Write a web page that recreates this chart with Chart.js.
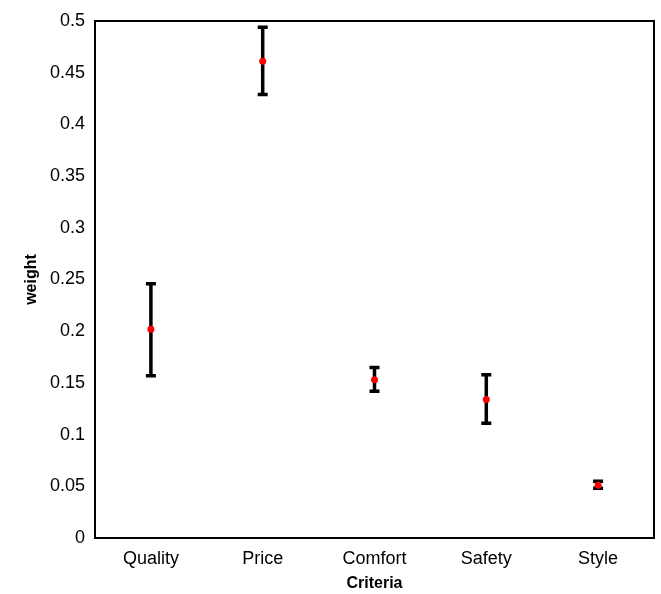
<!DOCTYPE html>
<html>
<head>
<meta charset="utf-8">
<script src="https://cdn.jsdelivr.net/npm/chart.js@4.4.1/dist/chart.umd.min.js"></script>
<style>
  html, body { margin: 0; padding: 0; background: #fff; }
  #wrap { width: 661px; height: 594px; }
</style>
</head>
<body>
<div id="wrap"><canvas id="myChart" width="661" height="594"></canvas></div>
<script>
// data
let criteria = ["Quality", "Price", "Comfort", "Safety", "Style"];
let weights = [0.202, 0.461, 0.153, 0.134, 0.051];
let upper = [0.246, 0.494, 0.165, 0.158, 0.055];
let lower = [0.157, 0.429, 0.142, 0.111, 0.048];

// error bars + frame, drawn with the chart scales
const errorBars = {
  id: "errorBars",
  afterDatasetsDraw(chart) {
    let ctx = chart.ctx;
    let xs = chart.scales.x;
    let ys = chart.scales.y;
    let area = chart.chartArea;
    ctx.save();
    ctx.strokeStyle = "#000";
    ctx.lineWidth = 2;
    ctx.strokeRect(area.left, area.top, area.right - area.left, area.bottom - area.top);
    ctx.lineWidth = 3.5;
    for (let i = 0; i < criteria.length; i++) {
      let x = xs.getPixelForValue(i);
      let yTop = ys.getPixelForValue(upper[i]);
      let yBot = ys.getPixelForValue(lower[i]);
      ctx.beginPath();
      ctx.moveTo(x, yTop);
      ctx.lineTo(x, yBot);
      ctx.moveTo(x - 5, yTop);
      ctx.lineTo(x + 5, yTop);
      ctx.moveTo(x - 5, yBot);
      ctx.lineTo(x + 5, yBot);
      ctx.stroke();
    }
    // red points on top of the bars
    ctx.fillStyle = "#ff0000";
    for (let i = 0; i < criteria.length; i++) {
      ctx.beginPath();
      ctx.arc(xs.getPixelForValue(i), ys.getPixelForValue(weights[i]), 3.5, 0, Math.PI * 2);
      ctx.fill();
    }
    ctx.restore();
  },
};

const font = "'Liberation Sans', Arial, sans-serif";

const myChart = new Chart(document.getElementById("myChart").getContext("2d"), {
  type: "line",
  data: {
    labels: criteria,
    datasets: [
      {
        label: "weight",
        data: weights,
        showLine: false,
        pointRadius: 0,
        borderColor: "rgba(255, 0, 0, 1)",
        backgroundColor: "rgba(255, 0, 0, 1)",
      },
    ],
  },
  options: {
    responsive: false,
    animation: false,
    layout: { padding: { top: 21, right: 7, left: 18, bottom: 0 } },
    plugins: {
      legend: { display: false },
      tooltip: { enabled: false },
    },
    scales: {
      x: {
        offset: true,
        grid: { display: false, drawTicks: false },
        border: { display: false },
        ticks: { color: "#000", font: { family: font, size: 18 }, padding: 10, maxRotation: 0 },
        title: { display: true, text: "Criteria", color: "#000", font: { family: font, size: 16, weight: "bold" }, padding: { top: 4, bottom: 1 } },
        afterFit: (scale) => { scale.height = 56; },
      },
      y: {
        min: 0,
        max: 0.5,
        grid: { display: false, drawTicks: false },
        border: { display: false },
        ticks: {
          stepSize: 0.05,
          color: "#000",
          font: { family: font, size: 18 },
          padding: 10,
          callback: (v) => Number(v.toFixed(2)).toString(),
        },
        title: { display: true, text: "weight", color: "#000", font: { family: font, size: 16, weight: "bold" } },
        afterFit: (scale) => { scale.width = 77; },
      },
    },
  },
  plugins: [errorBars],
});
</script>
</body>
</html>
